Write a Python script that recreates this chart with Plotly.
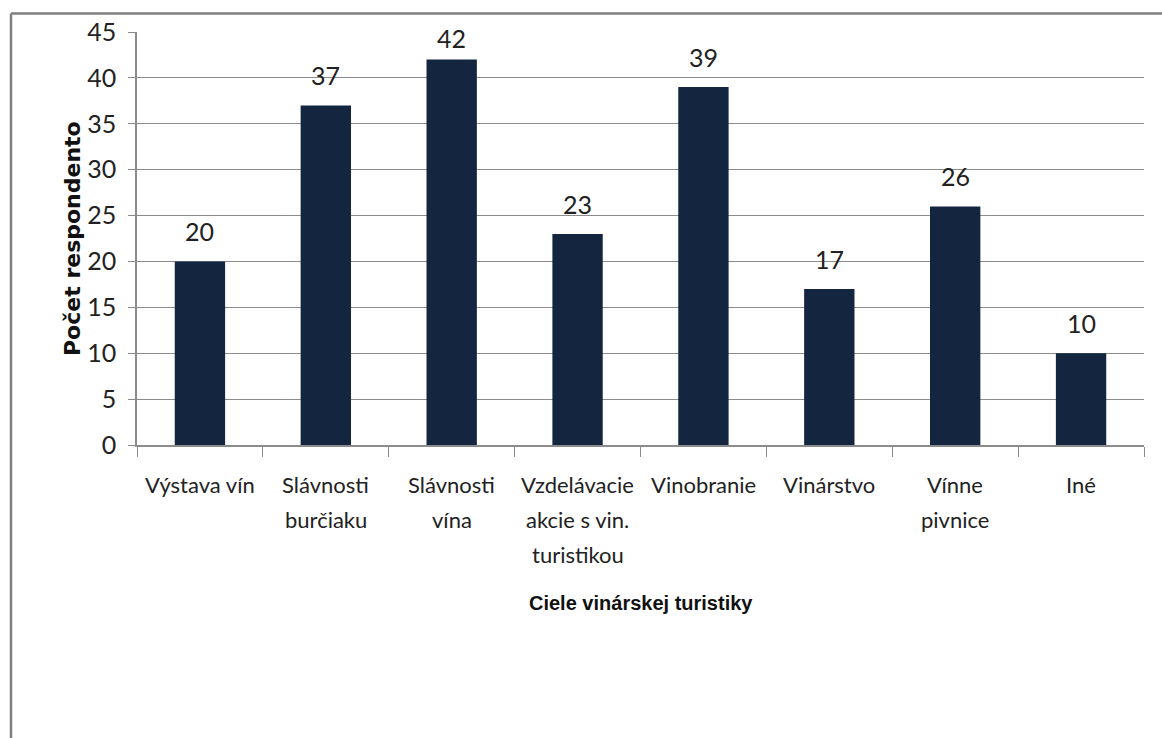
import plotly.graph_objects as go

categories = ["Výstava vín", "Slávnosti<br>burčiaku", "Slávnosti<br>vína",
              "Vzdelávacie<br>akcie s vin.<br>turistikou", "Vinobranie",
              "Vinárstvo", "Vínne<br>pivnice", "Iné"]
values = [20, 37, 42, 23, 39, 17, 26, 10]
y_ticks = [0, 5, 10, 15, 20, 25, 30, 35, 40, 45]
y_max = 45
x_title = "Ciele vinárskej turistiky"
y_title = "Počet respondento"

W, H = 1162, 738
ML, MR, MT, MB = 137, 18, 32, 293
FONT = "Lato"
BAR = "#14263f"
GRID = "#8c8c8c"
TXT = "#222222"

pw = W - ML - MR
ph = H - MT - MB
ppu = ph / y_max  # pixels per unit on the value axis

def px(x):
    return (x - ML) / pw
def py(y):
    return 1 - (y - MT) / ph

fig = go.Figure(go.Bar(x=categories, y=values, marker_color=BAR,
                       marker_line_width=0, width=0.4))

# value labels above bars, kept just inside the top of the plot area
for c, v in zip(categories, values):
    ly = min(v + 30 / ppu, y_max - 6 / ppu)
    fig.add_annotation(x=c, y=ly, text=str(v), showarrow=False,
                       yanchor="middle",
                       font=dict(family=FONT, size=25, color=TXT))

# category labels, one annotation per line for wider line spacing
LINE_GAP = 35
for c in categories:
    for i, line in enumerate(c.split("<br>")):
        fig.add_annotation(x=c, y=0, text=line, showarrow=False,
                           yanchor="middle", yshift=-39 - LINE_GAP * i,
                           font=dict(family=FONT, size=22, color=TXT))

# axis titles
fig.add_annotation(xref="paper", yref="paper", x=px(641), y=py(603),
                   text=f"<b>{x_title}</b>", showarrow=False,
                   xanchor="center", yanchor="middle",
                   font=dict(family="Liberation Sans", size=20, color="#111111"))
fig.add_annotation(xref="paper", yref="paper", x=px(72), y=py(239),
                   text=f"<b>{y_title}</b>", showarrow=False, textangle=-90,
                   xanchor="center", yanchor="middle",
                   font=dict(family="DejaVu Sans", size=22, color="#111111"))

# outer frame (left and top edges)
fig.add_shape(type="line", xref="paper", yref="paper",
              x0=px(11), x1=px(W + 5), y0=py(13.5), y1=py(13.5),
              line=dict(color="#7f7f7f", width=2.5))
fig.add_shape(type="line", xref="paper", yref="paper",
              x0=px(11), x1=px(11), y0=py(13.5), y1=py(H + 5),
              line=dict(color="#7f7f7f", width=2.5))

fig.update_layout(
    width=W, height=H,
    margin=dict(l=ML, r=MR, t=MT, b=MB, autoexpand=False),
    paper_bgcolor="white", plot_bgcolor="white",
    showlegend=False,
    font=dict(family=FONT, color=TXT),
)
fig.update_xaxes(
    type="category", showline=True, linecolor=GRID, linewidth=1.5,
    ticks="outside", ticklen=10, tickcolor=GRID, tickson="boundaries",
    showticklabels=False, showgrid=False,
)
fig.update_yaxes(
    range=[0, y_max], tickvals=y_ticks, showline=True, linecolor=GRID,
    linewidth=1.5, ticks="outside", ticklen=7, tickcolor=GRID,
    showgrid=True, gridcolor=GRID, gridwidth=1.2,
    tickfont=dict(size=25, family=FONT, color=TXT), ticklabelstandoff=7,
    zeroline=False,
)

fig.write_html("out.html")
